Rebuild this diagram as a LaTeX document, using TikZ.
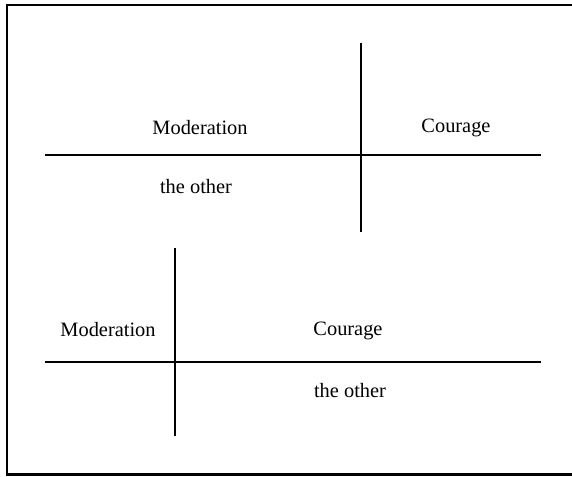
\documentclass[tikz,border=0pt]{standalone}
\usepackage{fontspec}
\setmainfont{Liberation Serif}

\begin{document}
\begin{tikzpicture}[x=0.025cm,y=-0.025cm,line width=1.2pt,
  lbl/.style={font=\fontsize{14.5}{16}\selectfont,inner sep=0pt}]
  \useasboundingbox (0,0) rectangle (572,477);
  % marco
  \draw[line width=2pt] (572,5)--(7,5)--(7,474.5)--(572,474.5);
  % arriba
  \coordinate (tl) at (45,155); \coordinate (tr) at (541,155);
  \coordinate (tt) at (361,43); \coordinate (tb) at (361,232);
  \draw (tl)--(tr); \draw (tt)--(tb);
  \node[lbl] (mod1) at (200,128) {Moderation};
  \node[lbl] (cou1) at (456,128) {Courage};
  \node[lbl] (oth1) at (196,187) {the other};
  % abajo
  \coordinate (bl) at (45,362); \coordinate (br) at (541,362);
  \coordinate (bt) at (175,248); \coordinate (bb) at (175,436);
  \draw (bl)--(br); \draw (bt)--(bb);
  \node[lbl] (mod2) at (108,330) {Moderation};
  \node[lbl] (cou2) at (348,331) {Courage};
  \node[lbl] (oth2) at (350,391) {the other};
\end{tikzpicture}
\end{document}
